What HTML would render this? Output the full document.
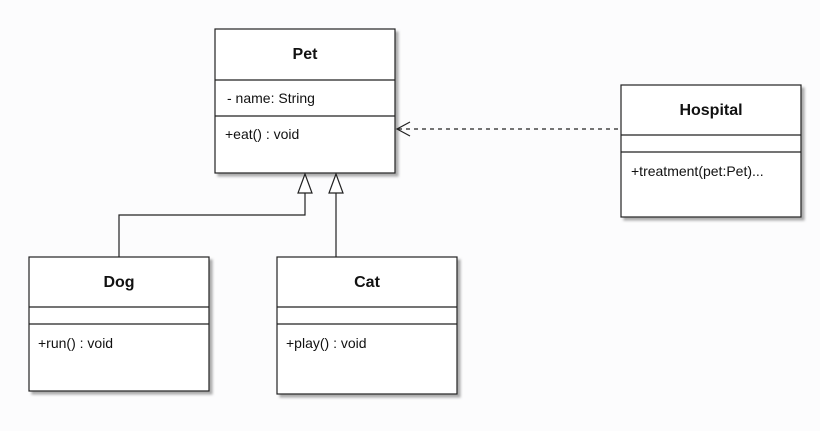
<!DOCTYPE html>
<html><head><style>body{margin:0;background:#fcfcfd}svg{display:block}text{font-family:"Liberation Sans",sans-serif;fill:#111}</style></head>
<body>
<svg width="820" height="431" viewBox="0 0 820 431">
<defs><filter id="s" x="-5%" y="-5%" width="115%" height="115%"><feDropShadow dx="3" dy="3" stdDeviation="1.2" flood-color="#888" flood-opacity="0.7"/></filter></defs>
<g fill="#fff" stroke="#222" stroke-width="1.2">
<rect x="215" y="29" width="180" height="144" filter="url(#s)"/>
<rect x="621" y="85" width="180" height="132" filter="url(#s)"/>
<rect x="29" y="257" width="180" height="134" filter="url(#s)"/>
<rect x="277" y="257" width="180" height="137" filter="url(#s)"/>
</g>
<g stroke="#222" stroke-width="1.2" fill="none">
<line x1="215" y1="80" x2="395" y2="80"/><line x1="215" y1="116" x2="395" y2="116"/>
<line x1="621" y1="135" x2="801" y2="135"/><line x1="621" y1="152" x2="801" y2="152"/>
<line x1="29" y1="307" x2="209" y2="307"/><line x1="29" y1="324" x2="209" y2="324"/>
<line x1="277" y1="307" x2="457" y2="307"/><line x1="277" y1="324" x2="457" y2="324"/>
<polyline points="119,257 119,215 305,215 305,193"/>
<line x1="336" y1="257" x2="336" y2="193"/>
<polygon points="305,174 298,193 312,193" fill="#fff"/>
<polygon points="336,174 329,193 343,193" fill="#fff"/>
<line x1="398" y1="129" x2="621" y2="129" stroke-dasharray="4,4"/>
<polyline points="410,122 397,129 410,136"/>
</g>
<g font-size="16" font-weight="bold" text-anchor="middle">
<text x="305" y="59">Pet</text><text x="711" y="115">Hospital</text>
<text x="119" y="287">Dog</text><text x="367" y="287">Cat</text>
</g>
<g font-size="14">
<text x="227" y="103">- name: String</text>
<text x="225" y="139">+eat() : void</text>
<text x="631" y="176">+treatment(pet:Pet)...</text>
<text x="38" y="348">+run() : void</text>
<text x="286" y="348">+play() : void</text>
</g>
</svg>
</body></html>
